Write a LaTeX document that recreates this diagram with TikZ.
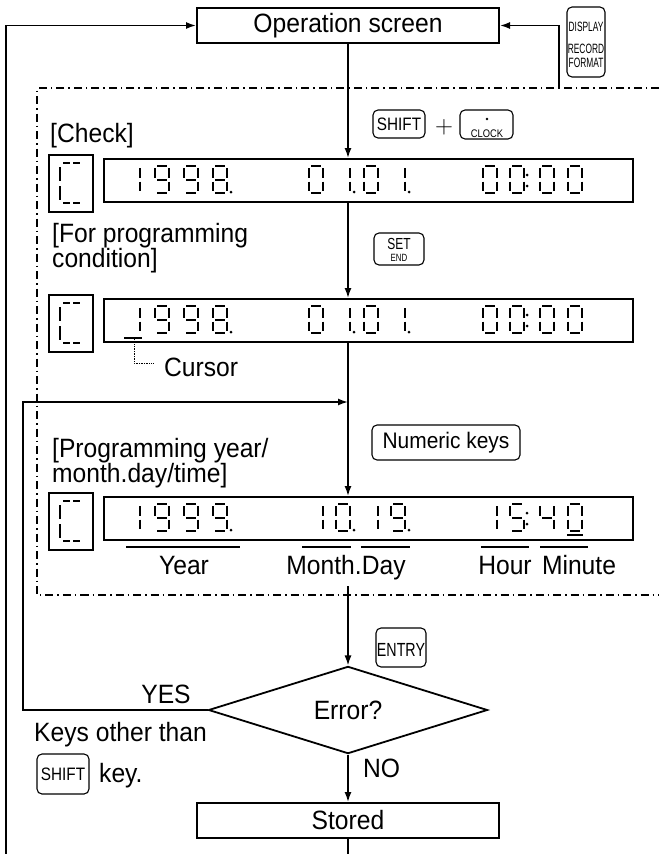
\documentclass[tikz,border=0pt]{standalone}
\usepackage{fontspec}
\setmainfont[FakeStretch=0.93]{Liberation Sans}
\newfontfamily\keyfA[FakeStretch=0.85]{Liberation Sans}
\newfontfamily\keyfB[FakeStretch=0.62]{Liberation Sans}
\newfontfamily\keyfC[FakeStretch=0.75]{Liberation Sans}
\usetikzlibrary{arrows.meta,shapes.geometric}
\newcommand{\setfs}[1]{\fontsize{#1}{#1}\selectfont}
% seven-segment pieces (origin top-left, y down)
\newcommand{\segXA}{\draw[seg] (2,0)--(12,0);}
\newcommand{\segXB}{\draw[seg] (14,2)--(14,11.5);}
\newcommand{\segXC}{\draw[seg] (14,15.5)--(14,25);}
\newcommand{\segXD}{\draw[seg] (2,27)--(12,27);}
\newcommand{\segXE}{\draw[seg] (0,15.5)--(0,25);}
\newcommand{\segXF}{\draw[seg] (0,2)--(0,11.5);}
\newcommand{\segXG}{\draw[seg] (2,13.5)--(12,13.5);}
\newcommand{\sdig}[3]{%
  \ifcase#3\relax \def\seglist{A,B,C,D,E,F}%
  \or \def\seglist{B,C}%
  \or \def\seglist{A,B,G,E,D}%
  \or \def\seglist{A,B,G,C,D}%
  \or \def\seglist{F,G,B,C}%
  \or \def\seglist{A,F,G,C,D}%
  \or \def\seglist{A,F,G,E,D,C}%
  \or \def\seglist{A,B,C}%
  \or \def\seglist{A,B,C,D,E,F,G}%
  \or \def\seglist{A,B,C,D,F,G}\fi
  \begin{scope}[shift={(#1,#2)}]\foreach \s in \seglist {\csname segX\s\endcsname}\end{scope}}
\newcommand{\sdot}[2]{\fill (#1,#2) circle (1.5pt);}
\newcommand{\csym}[2]{%
  \begin{scope}[shift={(#1,#2)}]
    \draw[seg] (11,12)--(11,26);
    \draw[seg] (11,31)--(11,45);
    \draw[seg] (14,8)--(21,8);
    \draw[seg] (24,8)--(31,8);
    \draw[seg] (14,48)--(21,48);
    \draw[seg] (24,48)--(31,48);
  \end{scope}}
\begin{document}
\begin{tikzpicture}[x=1pt,y=-1pt,
  ln/.style={line width=1.6pt},
  arr/.style={line width=1.6pt,-{Latex[length=10pt,width=7pt]}},
  bx/.style={draw,line width=2pt,inner sep=0pt},
  dispbox/.style={draw,line width=2pt,inner sep=0pt,minimum width=529pt,minimum height=43pt},
  cbox/.style={draw,line width=1.2pt,inner sep=0pt,minimum width=44pt,minimum height=57pt},
  keybox/.style={draw,line width=1.1pt,rounded corners=5pt,inner sep=0pt},
  seg/.style={line width=2pt},
  txt/.style={inner sep=0pt,font=\setfs{26.5}},
  dashdotline/.style={line width=1.2pt,dash pattern=on 8pt off 4pt on 1.5pt off 4pt},
  uline/.style={line width=1.3pt}]
\path[use as bounding box,fill=white] (0,0) rectangle (659,854);

% dash-dot frame
\draw[dashdotline] (659,88) -- (37,88) -- (37,595) -- (659,595);

% main boxes
\node[bx,minimum width=302pt,minimum height=35pt,font=\setfs{26.5}] (op) at (348,25.5) {Operation screen};
\node[bx,minimum width=302pt,minimum height=35pt,font=\setfs{26.5}] (st) at (348,820.5) {Stored};
\node[draw,diamond,line width=1.8pt,inner sep=0pt,minimum width=279pt,minimum height=67pt,font=\setfs{26.5}] (err) at (348,710) {Error?};

% display boxes
\node[dispbox] (d1) at (368.5,180.5) {};
\node[dispbox] (d2) at (368.5,320.5) {};
\node[dispbox] (d3) at (368.5,518.5) {};
\node[cbox] (c1) at (71,183.5) {};
\node[cbox] (c2) at (71,323.5) {};
\node[cbox] (c3) at (71,521.5) {};
\csym{49}{155}
\csym{49}{295}
\csym{49}{493}

% display 1 digits
\foreach \d/\x in {1/126,9/155,9/184,8/213,0/309,1/336,0/364,1/391,0/483,0/510,0/540,0/568}{\sdig{\x}{166}{\d}}
\sdot{231}{192}\sdot{354}{192}\sdot{409}{192}
\sdot{527}{175}\sdot{527}{186}
% display 2 digits
\foreach \d/\x in {1/126,9/155,9/184,8/213,0/309,1/336,0/364,1/391,0/483,0/510,0/540,0/568}{\sdig{\x}{306}{\d}}
\sdot{231}{332}\sdot{354}{332}\sdot{409}{332}
\sdot{527}{315}\sdot{527}{326}
\draw[seg] (124,338) -- (142,338);
% display 3 digits
\foreach \d/\x in {1/126,9/155,9/184,9/213,1/309,0/336,1/364,9/391,1/483,5/510,4/540,0/568}{\sdig{\x}{504}{\d}}
\sdot{231}{530}\sdot{354}{530}\sdot{409}{530}
\sdot{527}{513}\sdot{527}{524}
\draw[seg] (567,535) -- (583,535);

% cursor leader
\coordinate (cu1) at (134,339);
\coordinate (cu2) at (134,363);
\coordinate (cu3) at (154,363);
\draw[line width=0.7pt,densely dotted] (cu1) -- (cu2) -- (cu3);
\node[txt,anchor=base west] (tcursor) at (164,376) {Cursor};

% field underlines and labels
\draw[uline] (126,547) -- (240,547);
\draw[uline] (302,547) -- (351,547);
\draw[uline] (361,547) -- (410,547);
\draw[uline] (481,547) -- (529,547);
\draw[uline] (540,547) -- (588,547);
\node[txt,anchor=base] (tyear) at (184,574) {Year};
\node[txt,anchor=base] (tmd) at (346,574) {Month.Day};
\node[txt,anchor=base] (thour) at (505,574) {Hour};
\node[txt,anchor=base] (tmin) at (579,574) {Minute};

% section titles
\node[txt,anchor=base west] (tcheck) at (50,142) {[Check]};
\node[txt,anchor=base west] (tfor1) at (52,242) {[For programming};
\node[txt,anchor=base west] (tfor2) at (52,267) {condition]};
\node[txt,anchor=base west] (tprog1) at (52,457) {[Programming year/};
\node[txt,anchor=base west] (tprog2) at (52,482) {month.day/time]};

% keys
\node[keybox,minimum width=38pt,minimum height=70pt] (kdisp) at (586,42) {};
\node[inner sep=0pt,font=\keyfB\setfs{13.5}] (kdisp1) at (586,27) {DISPLAY};
\node[inner sep=0pt,font=\keyfB\setfs{13.5}] (kdisp2) at (586,49) {RECORD};
\node[inner sep=0pt,font=\keyfB\setfs{13.5}] (kdisp3) at (586,63) {FORMAT};

\node[keybox,minimum width=52pt,minimum height=28pt,font=\keyfA\setfs{18}] (kshift) at (399,124) {SHIFT};
\node[inner sep=0pt] (kplus) at (444,127) {\fontsize{26}{26}\selectfont$+$};
\node[keybox,minimum width=53pt,minimum height=29pt] (kclock) at (486.5,124.5) {};
\fill (487,119) circle (1.4pt);
\node[inner sep=0pt,font=\keyfA\setfs{11}] (kclocktx) at (487,134) {CLOCK};

\node[keybox,minimum width=50pt,minimum height=32pt] (kset) at (399,249) {};
\node[inner sep=0pt,font=\keyfC\setfs{16}] (kset1) at (399,244) {SET};
\node[inner sep=0pt,font=\keyfC\setfs{10.5}] (kset2) at (399,258) {END};

\node[keybox,minimum width=148pt,minimum height=35pt,font=\setfs{22.5}] (knum) at (446,442.5) {Numeric keys};

\node[keybox,minimum width=50pt,minimum height=39pt] (kentry) at (401,647.5) {};
\node[inner sep=0pt,font=\keyfC\setfs{19}] (kentrytx) at (401,650) {ENTRY};

\node[keybox,minimum width=52pt,minimum height=40pt,font=\keyfA\setfs{18}] (kshift2) at (63,774) {SHIFT};
\node[txt,anchor=base west] (tkey) at (99,782) {key.};
\node[txt,anchor=base west] (tother) at (34,741) {Keys other than};

\node[txt,anchor=base] (tyes) at (166,703) {YES};
\node[txt,anchor=base west] (tno) at (363,777) {NO};

% main flow
\draw[arr] (op.south) -- (op.south |- d1.north);
\draw[arr] (op.south |- d1.south) -- (op.south |- d2.north);
\draw[arr] (op.south |- d2.south) -- (op.south |- d3.north);
\coordinate (m3) at (348,586);
\draw[arr] (m3) -- (err.north);
\draw[arr] (err.south) -- (st.north);
\coordinate (botM) at (348,854);
\draw[ln] (st.south) -- (botM);

% loop back on error
\coordinate (lpB) at (23,402);
\coordinate (lpC) at (348,402);
\draw[arr] (err.west) -| (lpB) -- (lpC);

% outer return
\coordinate (botL) at (6,854);
\draw[arr] (botL) |- (op.west);
\coordinate (dr) at (559,88);
\draw[arr] (dr) |- (op.east);
\end{tikzpicture}
\end{document}
